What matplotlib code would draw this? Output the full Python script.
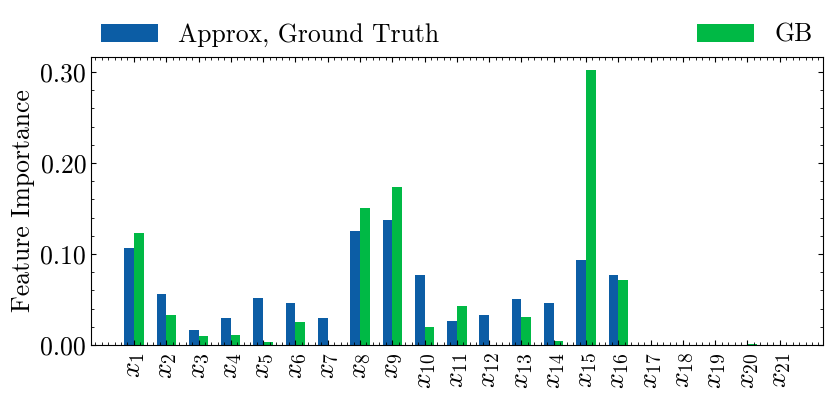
import numpy as np
import matplotlib
matplotlib.use("Agg")
from matplotlib import pyplot as plt
from matplotlib.ticker import AutoMinorLocator, MultipleLocator, FormatStrFormatter

features = [r"$x_{%d}$" % i for i in range(1, 22)]
approx_gt = [0.107, 0.056, 0.016, 0.030, 0.052, 0.046, 0.030, 0.125, 0.137, 0.077,
             0.026, 0.033, 0.051, 0.046, 0.093, 0.077, 0.0, 0.0, 0.0, 0.0, 0.0]
gb = [0.123, 0.033, 0.010, 0.011, 0.003, 0.025, 0.0, 0.151, 0.174, 0.020,
      0.043, 0.0, 0.031, 0.004, 0.302, 0.071, 0.0, 0.0, 0.0, 0.001, 0.0]

plt.rcParams.update({
    "font.family": "serif",
    "font.serif": ["cmr10"],
    "mathtext.fontset": "cm",
    "axes.formatter.use_mathtext": True,
    "axes.unicode_minus": False,
    "font.size": 18.5,
    "axes.linewidth": 0.8,
    "xtick.direction": "in",
    "ytick.direction": "in",
    "xtick.top": True,
    "ytick.right": True,
    "xtick.major.size": 3.5,
    "ytick.major.size": 3.5,
    "xtick.minor.size": 2,
    "ytick.minor.size": 2,
    "xtick.major.width": 0.8,
    "ytick.major.width": 0.8,
    "xtick.minor.width": 0.6,
    "ytick.minor.width": 0.6,
    "xtick.minor.visible": True,
    "ytick.minor.visible": True,
})

fig = plt.figure(figsize=(8.31, 3.93), dpi=100)
ax = fig.add_axes([0.1095, 0.122, 0.8805, 0.733])

x = np.arange(len(features))
w = 0.3
ax.bar(x - w / 2, approx_gt, w, color="#0C5DA5", label="Approx, Ground Truth")
ax.bar(x + w / 2, gb, w, color="#00B945", label="GB")

ax.set_xticks(x)
ax.set_xticklabels(features, rotation=90, fontsize=20)
ax.tick_params(axis="x", which="major", pad=5)
ax.xaxis.set_minor_locator(AutoMinorLocator(5))
ax.set_xlim(-1.33, 21.33)

ax.set_ylim(0, 0.3166)
ax.yaxis.set_major_locator(MultipleLocator(0.1))
ax.yaxis.set_minor_locator(MultipleLocator(0.02))
ax.yaxis.set_major_formatter(FormatStrFormatter("%.2f"))
ax.set_ylabel("Feature Importance")

ax.legend(bbox_to_anchor=(0, 1.0, 1, 0.2), loc="lower left", mode="expand",
          ncol=2, frameon=False, handlelength=2.2, borderaxespad=0)

fig.savefig("out.png", dpi=100)
